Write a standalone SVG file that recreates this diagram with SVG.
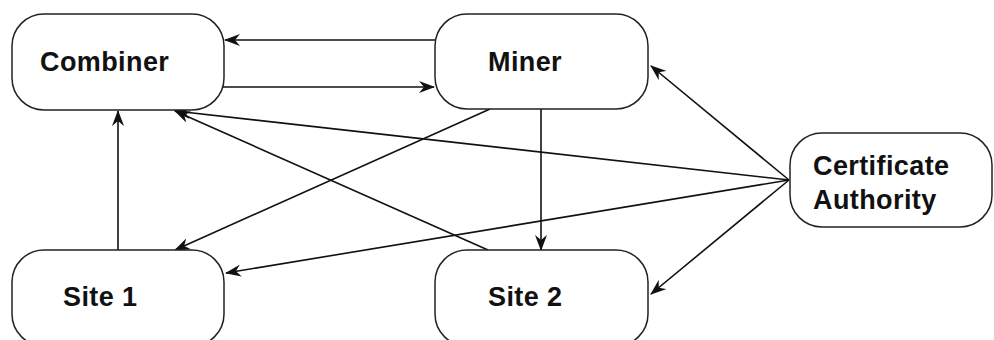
<svg xmlns="http://www.w3.org/2000/svg" width="994" height="340" viewBox="0 0 994 340">
<style>
.box{fill:#fff;stroke:#222;stroke-width:1.5}
.lbl{font-family:"Liberation Sans",Arial,sans-serif;font-weight:bold;font-size:27px;letter-spacing:0.4px;fill:#111}
.edge{stroke:#111;stroke-width:1.6;fill:none;marker-end:url(#ah)}
</style>
<defs>
<marker id="ah" viewBox="0 0 16 12" refX="15" refY="6" markerWidth="16" markerHeight="12" markerUnits="userSpaceOnUse" orient="auto">
<path d="M0,0 L16,6 L0,12 L5,6 z" fill="#111"/>
</marker>
</defs>
<rect width="994" height="340" fill="#fff"/>
<g id="connectors">
<line class="edge" x1="435" y1="40" x2="225" y2="40"/>
<line class="edge" x1="222" y1="87" x2="434" y2="87"/>
<line class="edge" x1="118" y1="250" x2="118" y2="111"/>
<line class="edge" x1="488" y1="250" x2="175" y2="111"/>
<line class="edge" x1="789" y1="180" x2="175" y2="111"/>
<line class="edge" x1="490" y1="109" x2="175" y2="250"/>
<line class="edge" x1="541" y1="109" x2="541" y2="250"/>
<line class="edge" x1="789" y1="180" x2="651" y2="66"/>
<line class="edge" x1="789" y1="180" x2="226" y2="273"/>
<line class="edge" x1="789" y1="180" x2="651" y2="294"/>
</g>
<g id="combiner">
<rect class="box" x="12" y="14" width="212" height="96" rx="32"/>
<text class="lbl" x="40" y="71">Combiner</text>
</g>
<g id="miner">
<rect class="box" x="435" y="14" width="213" height="95" rx="32"/>
<text class="lbl" x="488" y="71">Miner</text>
</g>
<g id="site1">
<rect class="box" x="12" y="250" width="212" height="96" rx="32"/>
<text class="lbl" x="63" y="306">Site 1</text>
</g>
<g id="site2">
<rect class="box" x="435" y="250" width="213" height="96" rx="32"/>
<text class="lbl" x="488" y="306">Site 2</text>
</g>
<g id="ca">
<rect class="box" x="790" y="133" width="202" height="94" rx="32"/>
<text class="lbl" x="813" y="175">Certificate</text>
<text class="lbl" x="813" y="209">Authority</text>
</g>
</svg>
